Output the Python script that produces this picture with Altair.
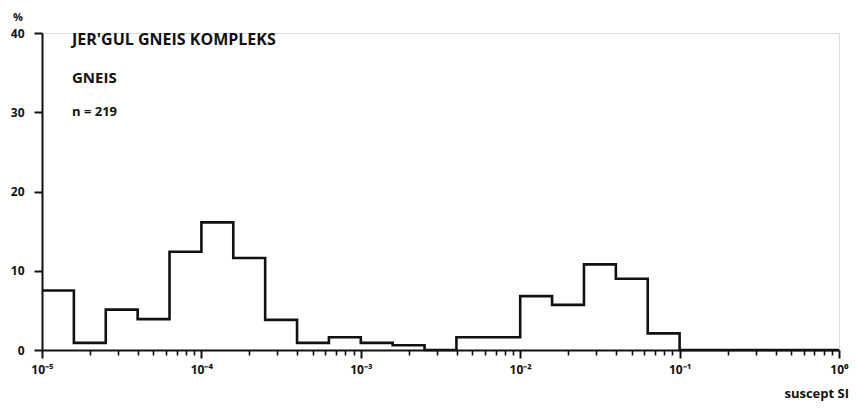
import altair as alt
import pandas as pd

# bin lower edges (log10 of susceptibility, SI) and percentages
bin_edges_exp = [-5.0, -4.8, -4.6, -4.4, -4.2, -4.0, -3.8, -3.6, -3.4, -3.2,
                 -3.0, -2.8, -2.6, -2.4, -2.2, -2.0, -1.8, -1.6, -1.4, -1.2]
pct = [7.5, 0.9, 5.1, 3.9, 12.4, 16.1, 11.6, 3.8, 0.9, 1.6,
       0.9, 0.6, 0.0, 1.6, 1.6, 6.8, 5.7, 10.8, 9.0, 2.1]
last_edge_exp = -1.0
axis_end_exp = 0.0

major_exp = [-5, -4, -3, -2, -1, 0]
minor_mult = [2, 3, 4, 5, 6, 7, 8, 9]
y_ticks = [0, 10, 20, 30, 40]

title_lines = ["JER'GUL GNEIS KOMPLEKS", "GNEIS", "n = 219"]
x_title = "suscept SI"
y_unit = "%"

W, H = 797, 317
FONT = "Open Sans"

xs = [10 ** e for e in bin_edges_exp] + [10 ** last_edge_exp, 10 ** axis_end_exp]
ys = pct + [0.0, 0.0]
steps = pd.DataFrame({"x": xs, "y": ys, "o": list(range(len(xs)))})

xscale = alt.Scale(type="log", domain=[1e-5, 1], nice=False)
yscale = alt.Scale(domain=[0, 40], nice=False)

major_vals = [10.0 ** e for e in major_exp]
minor_vals = [m * 10.0 ** e for e in major_exp[:-1] for m in minor_mult]

is_major = "abs(log(datum.value)/LN10 - round(log(datum.value)/LN10)) < 0.01"
sup = ("(datum.value < 0.99 ? '10' + '\u207b' + "
       "['\u2070','\u00b9','\u00b2','\u00b3','\u2074','\u2075'][round(-log(datum.value)/LN10)]"
       " : '10\u2070')")

y_axis = alt.Axis(values=y_ticks, title=None, grid=False, tickSize=8, tickWidth=2,
                  tickColor="#111", domainColor="#111", domainWidth=2, labelFont=FONT,
                  labelFontWeight="bold", labelFontSize=12, labelColor="#111",
                  labelPadding=10)

common = dict(title=None, grid=False, tickColor="#111", domainColor="#111", domainWidth=2,
              labelFont=FONT, labelFontWeight="bold", labelFontSize=12, labelColor="#111",
              labelFlush=False)


def build(x_axis):
    line = alt.Chart(steps).mark_line(interpolate="step-after", color="#111", strokeWidth=2.6,
                                      strokeJoin="miter").encode(
        x=alt.X("x:Q", scale=xscale, axis=x_axis),
        y=alt.Y("y:Q", scale=yscale, axis=y_axis),
        order="o:O",
    )
    one = alt.Data(values=[{}])

    def txt(t, x, y, size=14, align="left"):
        return alt.Chart(one).mark_text(text=t, font=FONT, fontWeight="bold", fontSize=size,
                                        color="#111", align=align, baseline="middle").encode(
            x=alt.value(x), y=alt.value(y))

    texts = [
        txt(title_lines[0], 30, 7, 16),
        txt(title_lines[1], 30, 45, 15),
        txt(title_lines[2], 30, 79, 13),
        txt(x_title, 807, 361, 13, "right"),
        txt(y_unit, -29, -15, 11),
    ]
    return alt.layer(line, *texts).properties(
        width=W, height=H,
        autosize=alt.AutoSizeParams(type="none"),
        padding={"left": 34, "top": 25, "right": 10, "bottom": 52},
    ).configure_view(stroke=None).configure(background="white")


try:
    x_axis = alt.Axis(
        values=major_vals + minor_vals,
        labelExpr=is_major + " ? " + sup + " : ''",
        labelOverlap=False,
        tickSize={"condition": {"test": is_major, "value": 8}, "value": 5},
        tickWidth={"condition": {"test": is_major, "value": 2}, "value": 1.6},
        labelPadding=6,
        **common,
    )
    chart = build(x_axis)
    chart.to_dict()
except Exception:
    x_axis = alt.Axis(values=major_vals, labelExpr=sup, tickSize=8, tickWidth=2,
                      labelPadding=6, **common)
    chart = build(x_axis)

chart.save("out.html", embed_options={"renderer": "svg", "actions": False})
